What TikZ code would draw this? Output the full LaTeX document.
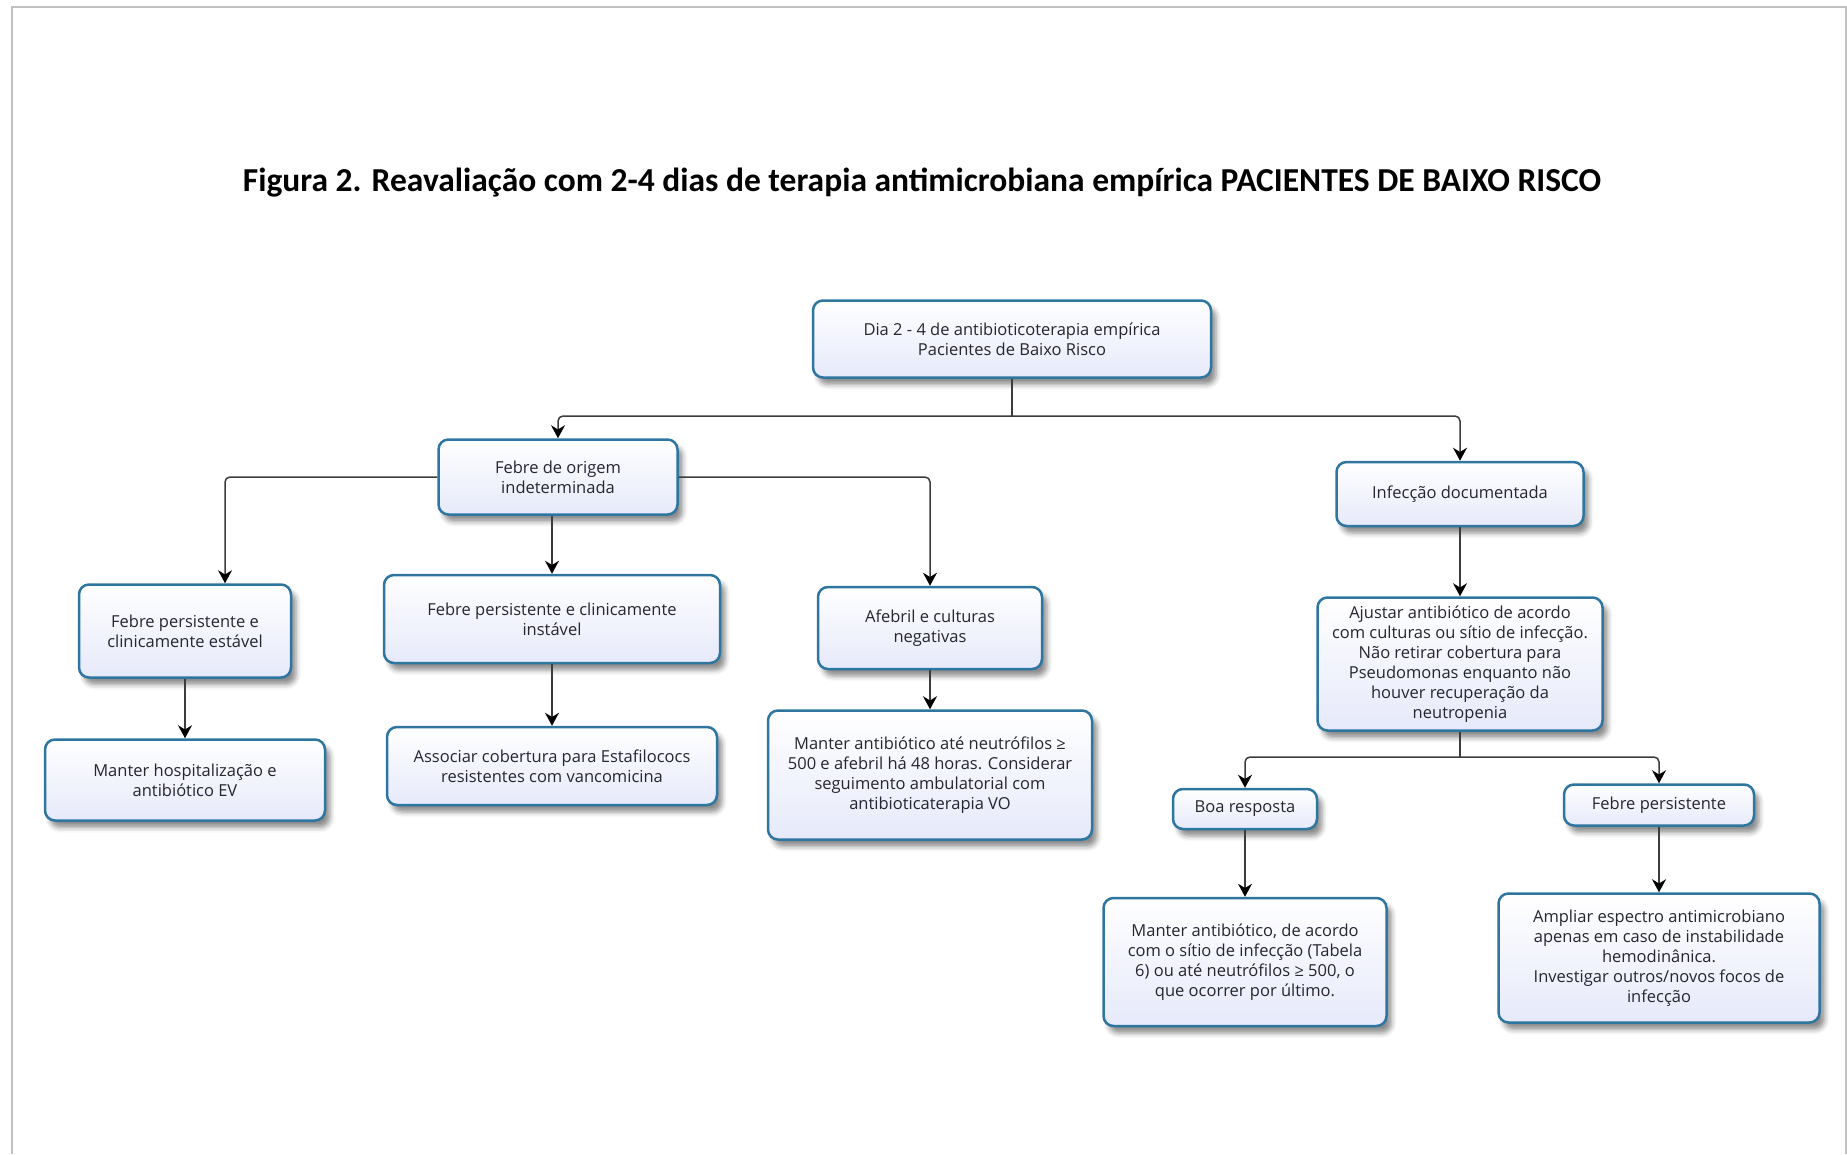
\documentclass[tikz,border=0pt]{standalone}
\usepackage{fontspec}
\setmainfont{Open Sans}
\newfontfamily\titlefont{Carlito}
\usetikzlibrary{arrows.meta,shadows.blur}
\definecolor{bordc}{RGB}{46,117,160}
\definecolor{fillb}{RGB}{230,233,250}
\definecolor{txtc}{RGB}{38,38,48}
\definecolor{framec}{RGB}{192,192,192}
\definecolor{connc}{RGB}{60,60,60}
\begin{document}
\begin{tikzpicture}[x=1pt,y=-1pt,
 box/.style={draw=bordc, line width=2.5pt, rounded corners=10pt, top color=white, bottom color=fillb,
   text=txtc, align=center, font=\fontsize{16.5}{20}\selectfont, inner sep=3pt,
   blur shadow={shadow xshift=5pt, shadow yshift=-7pt, shadow blur radius=5pt, shadow opacity=45}},
 conn/.style={draw=connc, line width=1.5pt, rounded corners=5pt, -{Stealth[length=13pt,width=14pt,black]}},
 link/.style={draw=connc, line width=1.5pt, rounded corners=5pt},
]
\useasboundingbox (0,0) rectangle (1847,1154);
\draw[framec, line width=2pt] (12,1154) -- (12,7) -- (1846,7) -- (1846,1154);

\node[font=\titlefont\bfseries\fontsize{33.5}{40}\selectfont, text=black] (title) at (922,183)
 {Figura 2. Reavaliação com 2-4 dias de terapia antimicrobiana empírica PACIENTES DE BAIXO RISCO};

\node[box, minimum width=398pt, minimum height=77pt] (top) at (1012,339)
 {Dia 2 - 4 de antibioticoterapia empírica\\Pacientes de Baixo Risco};
\node[box, minimum width=239pt, minimum height=75pt] (fdo) at (558,477)
 {Febre de origem\\indeterminada};
\node[box, minimum width=212pt, minimum height=93pt] (fpe) at (185,631)
 {Febre persistente e\\clinicamente estável};
\node[box, minimum width=280pt, minimum height=81pt] (mh) at (185,780)
 {Manter hospitalização e\\antibiótico EV};
\node[box, minimum width=336pt, minimum height=88pt] (fpi) at (552,619)
 {Febre persistente e clinicamente\\instável};
\node[box, minimum width=330pt, minimum height=78pt] (ac) at (552,766)
 {Associar cobertura para Estafilococs\\resistentes com vancomicina};
\node[box, minimum width=224pt, minimum height=82pt] (afeb) at (930,628)
 {Afebril e culturas\\negativas};
\node[box, minimum width=324pt, minimum height=129pt] (mant) at (930,775)
 {Manter antibiótico até neutrófilos ≥\\500 e afebril há 48 horas. Considerar\\seguimento ambulatorial com\\antibioticaterapia VO};
\node[box, minimum width=247pt, minimum height=64pt] (inf) at (1460,494)
 {Infecção documentada};
\node[box, minimum width=285pt, minimum height=133pt] (aj) at (1460,664)
 {Ajustar antibiótico de acordo\\com culturas ou sítio de infecção.\\Não retirar cobertura para\\Pseudomonas enquanto não\\houver recuperação da\\neutropenia};
\node[box, minimum width=144pt, minimum height=40pt] (boa) at (1245,809)
 {Boa resposta};
\node[box, minimum width=190pt, minimum height=41pt] (fp) at (1659,805)
 {Febre persistente};
\node[box, minimum width=283pt, minimum height=128pt] (mac) at (1245,962)
 {Manter antibiótico, de acordo\\com o sítio de infecção (Tabela\\6) ou até neutrófilos ≥ 500, o\\que ocorrer por último.};
\node[box, minimum width=321pt, minimum height=129pt] (amp) at (1659,958)
 {Ampliar espectro antimicrobiano\\apenas em caso de instabilidade\\hemodinânica.\\Investigar outros/novos focos de\\infecção};

\coordinate (j1) at (1012,416);
\coordinate (j2) at (1460,757);

\draw[link] (top.south) -- (j1);
\draw[conn] (j1) -| (fdo.north);
\draw[conn] (j1) -| (inf.north);
\draw[conn] (fdo.west) -| ([xshift=40pt]fpe.north);
\draw[conn] (fdo.east) -| (afeb.north);
\draw[conn] (fdo.south -| fpi.north) -- (fpi.north);
\draw[conn] (fpe.south) -- (mh.north);
\draw[conn] (fpi.south) -- (ac.north);
\draw[conn] (afeb.south) -- (mant.north);
\draw[conn] (inf.south) -- (aj.north);
\draw[link] (aj.south) -- (j2);
\draw[conn] (j2) -| (boa.north);
\draw[conn] (j2) -| (fp.north);
\draw[conn] (boa.south) -- (mac.north);
\draw[conn] (fp.south) -- (amp.north);
\end{tikzpicture}
\end{document}
